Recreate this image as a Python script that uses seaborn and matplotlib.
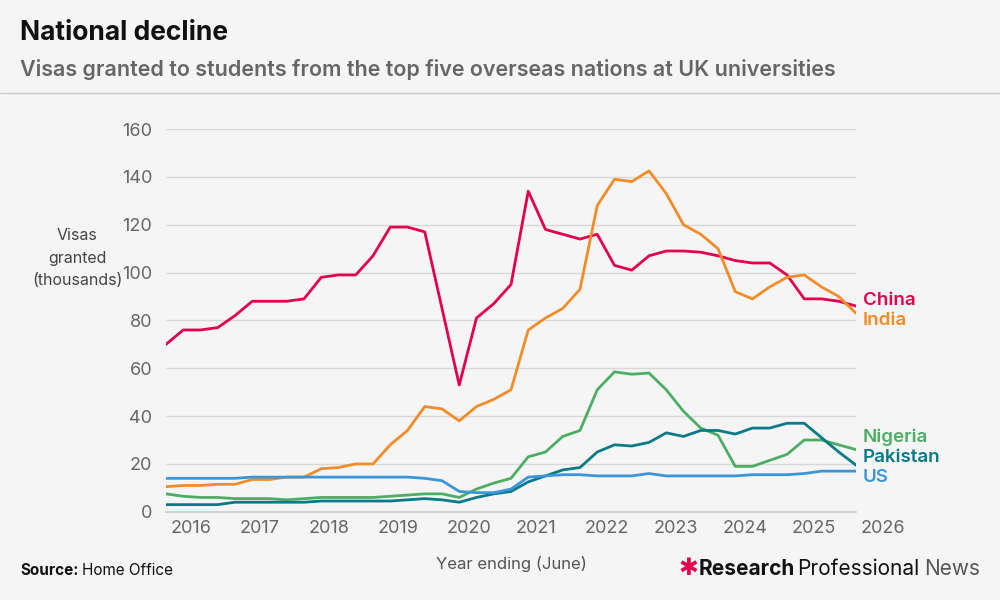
import matplotlib
matplotlib.use("Agg")
import matplotlib.pyplot as plt
import matplotlib.transforms as mt
import seaborn as sns
import pandas as pd

sns.set_theme(style="white")
plt.rcParams['font.family'] = ['Inter', 'DejaVu Sans']

quarters = [2016 + 0.25 * i for i in range(41)]
china = [70,76,76,77,82,88,88,88,89,98,99,99,107,119,119,117,85,53,81,87,95,134,118,116,114,116,103,101,107,109,109,108.5,107,105,104,104,99,89,89,88,86]
india = [10.5,11,11,11.5,11.5,13.5,13.5,14.5,14.5,18,18.5,20,20,28,34,44,43,38,44,47,51,76,81,85,93,128,139,138,142.5,133,120,116,110,92,89,94,98,99,94,90,83]
nigeria = [7.5,6.5,6,6,5.5,5.5,5.5,5,5.5,6,6,6,6,6.5,7,7.5,7.5,6,9.5,12,14,23,25,31.5,34,51,58.5,57.5,58,51,42,35,32,19,19,21.5,24,30,30,28,26]
pakistan = [3,3,3,3,4,4,4,4,4,4.5,4.5,4.5,4.5,4.5,5,5.5,5,4,6,7.5,8.5,12.5,15,17.5,18.5,25,28,27.5,29,33,31.5,34,34,32.5,35,35,37,37,31,25,19.5]
us = [14,14,14,14,14,14.5,14.5,14.5,14.5,14.5,14.5,14.5,14.5,14.5,14.5,14,13,8.5,8,8,9.5,14.5,15,15.5,15.5,15,15,15,16,15,15,15,15,15,15.5,15.5,15.5,16,17,17,17]
years = list(range(2016, 2027))
series = {"China": china, "India": india, "Nigeria": nigeria, "Pakistan": pakistan, "US": us}
colors = {"China": "#e2004f", "India": "#f28c28", "Nigeria": "#4cae64", "Pakistan": "#0b7a87", "US": "#3b96d8"}

df = pd.concat([pd.DataFrame({"x": quarters, "y": v, "country": k}) for k, v in series.items()])

bg = "#f5f5f5"
fig = plt.figure(figsize=(10, 6), dpi=100, facecolor=bg)
ax = fig.add_axes([0.166, 0.147, 0.69, 0.638], facecolor=bg)
sns.lineplot(data=df, x="x", y="y", hue="country", palette=colors, linewidth=2, ax=ax, legend=False)

ax.set_xlim(2016, 2026)
ax.set_ylim(0, 160)
ax.set_yticks(range(0, 161, 20))
ax.yaxis.grid(True, color="#d8d8d8", linewidth=1)
ax.tick_params(axis="y", length=0, labelsize=13, labelcolor="#666666", pad=10)
for s in ["left", "right", "top"]:
    ax.spines[s].set_visible(False)
ax.spines["bottom"].set_color("#cccccc")
ax.set_xticks(years)
ax.set_xticklabels([str(y) for y in years], ha="left")
ax.set_xticks(quarters, minor=True)
ax.tick_params(axis="x", which="major", length=22, color="#cccccc", labelsize=13,
               labelcolor="#666666", pad=-16)
offset = mt.ScaledTranslation(3/72, 0, fig.dpi_scale_trans)
for lab in ax.get_xticklabels():
    lab.set_transform(lab.get_transform() + offset)
ax.tick_params(axis="x", which="minor", length=7, color="#cccccc")
ax.set_xlabel("")
ax.set_ylabel("")

labels = {"China": 88.5, "India": 80, "Nigeria": 31, "Pakistan": 22.5, "US": 14.5}
for k, yv in labels.items():
    ax.text(2026.1, yv, k, color=colors[k], fontsize=13.5, fontweight="semibold", va="center",
            clip_on=False)

fig.text(0.077, 0.57, "Visas\ngranted\n(thousands)", ha="center", va="center", fontsize=11.5,
         color="#444444", linespacing=1.6)
fig.text(0.02, 0.945, "National decline", fontsize=19, fontweight="bold", color="#111111", va="center")
fig.text(0.02, 0.885, "Visas granted to students from the top five overseas nations at UK universities",
         fontsize=15.5, fontweight="semibold", color="#666666", va="center")
fig.add_artist(plt.Line2D([0, 1], [0.845, 0.845], color="#cccccc", linewidth=1, transform=fig.transFigure))
fig.text(0.511, 0.052, "Year ending (June)", ha="center", fontsize=12, color="#555555")
fig.text(0.02, 0.042, "Source:", fontsize=11, color="#111111", fontweight="bold")
fig.text(0.082, 0.042, "Home Office", fontsize=11, color="#111111")
fig.text(0.678, 0.042, "✱", fontsize=17, color="#e2004f", fontweight="bold", family="DejaVu Sans")
fig.text(0.699, 0.042, "Research", fontsize=15, color="#111111", fontweight="bold")
fig.text(0.797, 0.042, "Professional", fontsize=15, color="#111111")
fig.text(0.924, 0.042, "News", fontsize=15, color="#555555")

fig.savefig("out.png", dpi=100, facecolor=bg)
